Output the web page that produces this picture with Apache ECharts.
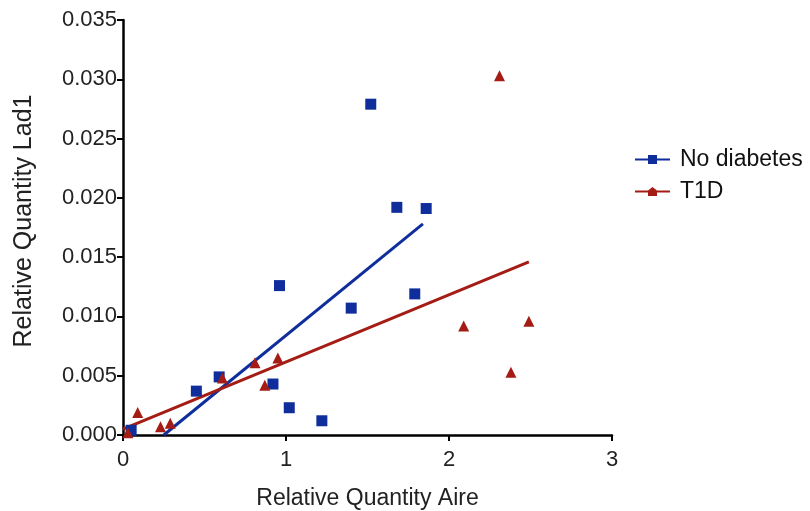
<!DOCTYPE html>
<html>
<head>
<meta charset="utf-8">
<script src="https://cdn.jsdelivr.net/npm/echarts@6/dist/echarts.min.js"></script>
<style>
  html, body { margin: 0; padding: 0; background: #fff; }
  #chart { width: 810px; height: 511px; }
</style>
</head>
<body>
<div id="chart"></div>
<script>
// points: [Aire, Lad1]
const noDiabetes = [
  [0.05, 0.0004], [0.45, 0.0037], [0.59, 0.0049], [0.92, 0.0043],
  [0.96, 0.0126], [1.02, 0.0023], [1.22, 0.0012], [1.40, 0.0107],
  [1.52, 0.0279], [1.68, 0.0192], [1.79, 0.0119], [1.86, 0.0191]
];
const t1d = [
  [0.03, 0.0002], [0.09, 0.0019], [0.23, 0.0007], [0.29, 0.0010],
  [0.61, 0.0048], [0.81, 0.0061], [0.87, 0.0042], [0.95, 0.0065],
  [2.09, 0.0092], [2.31, 0.0303], [2.38, 0.0053], [2.49, 0.0096]
];
// regression line ends (as drawn)
const noDiabetesFit = [[0.25, 0.0], [1.84, 0.0178]];
const t1dFit = [[0.0, 0.0005], [2.49, 0.0146]];
const xTicks = [0, 1, 2, 3];

const blue = "#0f2e9c";
const red = "#a41c14";
const font = "Liberation Sans, Arial, sans-serif";

const chart = echarts.init(document.getElementById("chart"));
chart.setOption({
  animation: false,
  textStyle: { fontFamily: font },
  grid: { left: 123, right: 198, top: 20, bottom: 76, outerBoundsMode: "none", containLabel: false },
  legend: {
    left: 630,
    top: 143,
    orient: "vertical",
    itemWidth: 35,
    itemHeight: 9,
    itemGap: 9,
    textStyle: { fontSize: 23, color: "#111", fontFamily: font, padding: [0, 0, 0, 5] },
    data: [
      { name: "No diabetes", icon: "path://M0,3.5h13v-3.5h9v3.5h13v2h-13v3.5h-9v-3.5h-13z", itemStyle: { color: blue } },
      { name: "T1D", icon: "path://M0,3.5h13l4.5,-3.5l4.5,3.5h13v2h-13v3.5h-9v-3.5h-13z", itemStyle: { color: red } }
    ]
  },
  xAxis: {
    type: "value",
    min: 0,
    max: 3,
    interval: 1,
    name: "Relative Quantity Aire",
    nameLocation: "middle",
    nameGap: 52,
    nameTextStyle: { fontSize: 23, color: "#222" },
    axisLine: { lineStyle: { color: "#000", width: 2.5 } },
    axisTick: { lineStyle: { color: "#000", width: 2 }, length: 6 },
    axisLabel: { fontSize: 22, color: "#222", margin: 14,
      formatter: v => xTicks.includes(v) ? String(v) : "" },
    splitLine: { show: false }
  },
  yAxis: {
    type: "value",
    min: 0,
    max: 0.035,
    interval: 0.005,
    name: "Relative Quantity Lad1",
    nameLocation: "middle",
    nameGap: 86,
    nameTextStyle: { fontSize: 25, color: "#222", padding: [0, 0, 0, 13] },
    axisLine: { show: true, lineStyle: { color: "#000", width: 2.5 } },
    axisTick: { show: true, lineStyle: { color: "#000", width: 2 }, length: 6 },
    axisLabel: { fontSize: 22, color: "#222", margin: 6, formatter: v => v.toFixed(3) },
    splitLine: { show: false }
  },
  series: [
    {
      name: "No diabetes",
      type: "line",
      data: noDiabetesFit,
      showSymbol: false,
      lineStyle: { color: blue, width: 3 },
      itemStyle: { color: blue },
      z: 2
    },
    {
      name: "T1D",
      type: "line",
      data: t1dFit,
      showSymbol: false,
      lineStyle: { color: red, width: 3 },
      itemStyle: { color: red },
      z: 2
    },
    {
      name: "No diabetes",
      type: "scatter",
      data: noDiabetes,
      symbol: "rect",
      symbolSize: 11,
      itemStyle: { color: blue, opacity: 1 },
      z: 3
    },
    {
      name: "T1D",
      type: "scatter",
      data: t1d,
      symbol: "triangle",
      symbolSize: 11,
      itemStyle: { color: red, opacity: 1 },
      z: 3
    }
  ]
});
</script>
</body>
</html>
